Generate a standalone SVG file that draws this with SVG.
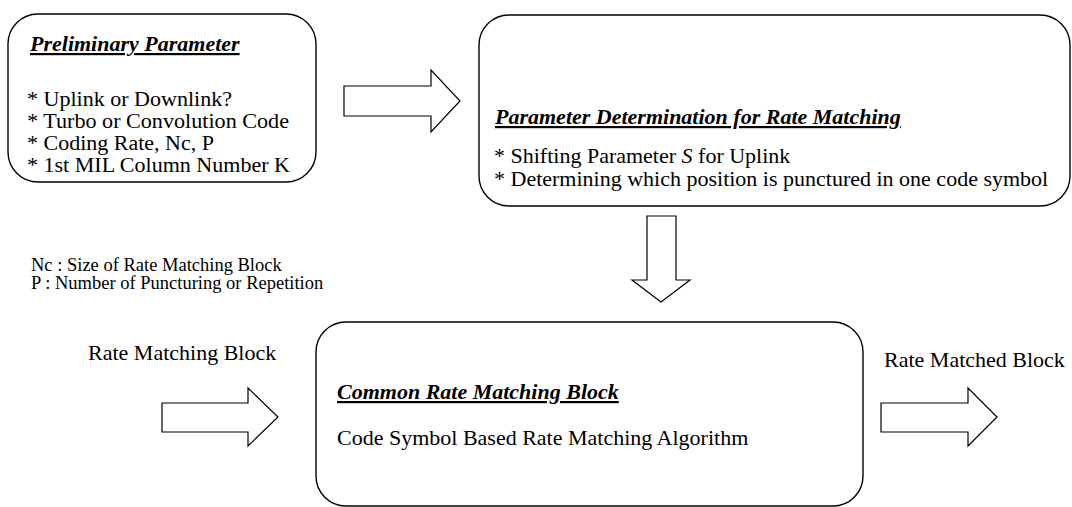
<svg xmlns="http://www.w3.org/2000/svg" width="1072" height="507" viewBox="0 0 1072 507">
  <style>
    .box { fill: #fff; stroke: #000; stroke-width: 1.4; }
    .arrow { fill: #fff; stroke: #000; stroke-width: 1.2; stroke-linejoin: miter; }
    .t { font-family: "Liberation Serif", "Times New Roman", serif; font-size: 22px; fill: #000; }
    .ts { font-family: "Liberation Serif", "Times New Roman", serif; font-size: 20px; fill: #000; }
    .h { font-family: "Liberation Serif", "Times New Roman", serif; font-size: 22px; font-weight: bold; font-style: italic; text-decoration: underline; fill: #000; }
    .note { font-family: "Liberation Serif", "Times New Roman", serif; font-size: 18.5px; fill: #000; }
  </style>
  <rect width="1072" height="507" fill="#fff"/>

  <g id="preliminary">
    <rect class="box" x="8" y="14" width="308" height="168" rx="30" ry="30"/>
    <text class="h" x="30" y="51">Preliminary Parameter</text>
    <!-- tightly leaded list: slightly smaller face stretched to full width -->
    <text class="ts" x="27" y="106" textLength="205" lengthAdjust="spacingAndGlyphs">* Uplink or Downlink?</text>
    <text class="ts" x="27" y="128" textLength="262" lengthAdjust="spacingAndGlyphs">* Turbo or Convolution Code</text>
    <text class="ts" x="27" y="150" textLength="187" lengthAdjust="spacingAndGlyphs">* Coding Rate, Nc, P</text>
    <text class="ts" x="27" y="172" textLength="263" lengthAdjust="spacingAndGlyphs">* 1st MIL Column Number K</text>
  </g>

  <g id="determination">
    <rect class="box" x="479" y="15" width="591" height="191" rx="30" ry="30"/>
    <text class="h" x="495" y="124">Parameter Determination for Rate Matching</text>
    <text class="t" x="494" y="163">* Shifting Parameter <tspan font-style="italic">S</tspan> for Uplink</text>
    <text class="t" x="494" y="186">* Determining which position is punctured in one code symbol</text>
  </g>

  <g id="legend">
    <text class="note" x="31" y="271">Nc : Size of Rate Matching Block</text>
    <text class="note" x="31" y="289">P : Number of Puncturing or Repetition</text>
  </g>

  <g id="common">
    <rect class="box" x="316" y="322" width="547" height="184" rx="30" ry="30"/>
    <text class="h" x="337" y="399">Common Rate Matching Block</text>
    <text class="t" x="337" y="445">Code Symbol Based Rate Matching Algorithm</text>
  </g>

  <g id="input-label">
    <text class="t" x="88" y="360">Rate Matching Block</text>
  </g>
  <g id="output-label">
    <text class="t" x="884" y="367">Rate Matched Block</text>
  </g>

  <g id="connectors">
    <!-- preliminary -> determination -->
    <polygon class="arrow" points="344,86 431,86 431,70 460,101 431,132 431,116 344,116"/>
    <!-- determination -> common -->
    <polygon class="arrow" points="647,216 676,216 676,280 690,280 661,302 632,280 647,280"/>
    <!-- input -> common -->
    <polygon class="arrow" points="162,403 248,403 248,388 278,417 248,446 248,432 162,432"/>
    <!-- common -> output -->
    <polygon class="arrow" points="881,403 968,403 968,388 997,417 968,446 968,432 881,432"/>
  </g>
</svg>
